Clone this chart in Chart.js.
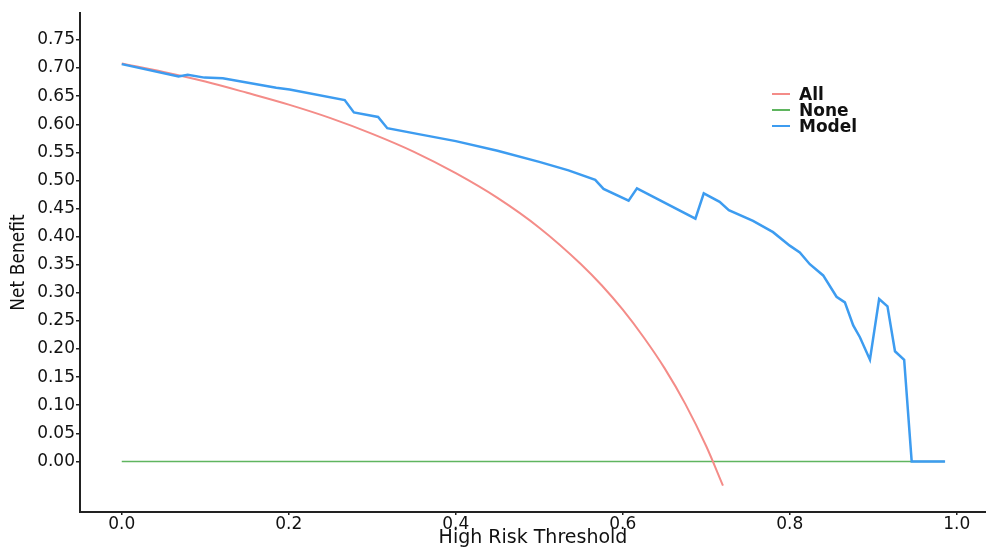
<!DOCTYPE html>
<html>
<head>
<meta charset="utf-8">
<script src="https://cdn.jsdelivr.net/npm/chart.js@4.4.0/dist/chart.umd.min.js"></script>
<style>
  body { margin: 0; background: #fff; }
  .wrap { position: relative; width: 986px; height: 548px; }
  .legend { position: absolute; left: 772px; top: 86px; font-family: "DejaVu Sans"; font-size: 17px; font-weight: 600; color: #111; }
  .legend div { display: flex; align-items: center; height: 16px; }
  .legend span.swatch { display: inline-block; width: 18px; height: 2px; margin-right: 9px; }
</style>
</head>
<body>
<div class="wrap">
  <canvas id="dca"></canvas>
  <div class="legend" id="legend"></div>
</div>
<script>
// threshold probabilities and net benefit values
const allX = [0, 0.05, 0.1, 0.15, 0.2, 0.25, 0.3, 0.35, 0.4, 0.45, 0.5, 0.55, 0.575, 0.6, 0.625, 0.65, 0.675, 0.7, 0.72];
const allY = [0.708, 0.693, 0.676, 0.656, 0.635, 0.611, 0.583, 0.551, 0.513, 0.469, 0.416, 0.351, 0.313, 0.270, 0.221, 0.166, 0.102, 0.027, -0.043];

const noneX = [0, 0.985];
const noneY = [0, 0];

const modelX = [0, 0.068, 0.079, 0.099, 0.121, 0.185, 0.201, 0.267, 0.278, 0.307, 0.318, 0.357, 0.4, 0.45, 0.5, 0.535,
  0.567, 0.577, 0.607, 0.617, 0.687, 0.697, 0.716, 0.727, 0.756, 0.78, 0.8, 0.812, 0.824, 0.84, 0.856, 0.866,
  0.876, 0.884, 0.896, 0.907, 0.917, 0.926, 0.937, 0.946, 0.986];
const modelY = [0.707, 0.685, 0.688, 0.683, 0.682, 0.665, 0.662, 0.643, 0.621, 0.613, 0.593, 0.582, 0.570, 0.553, 0.533, 0.518,
  0.501, 0.485, 0.464, 0.486, 0.432, 0.477, 0.462, 0.447, 0.428, 0.408, 0.384, 0.372, 0.351, 0.331, 0.293, 0.283,
  0.242, 0.221, 0.181, 0.289, 0.276, 0.196, 0.181, 0, 0];

const xTicks = [0, 0.2, 0.4, 0.6, 0.8, 1.0];
const yTicks = [0, 0.05, 0.1, 0.15, 0.2, 0.25, 0.3, 0.35, 0.4, 0.45, 0.5, 0.55, 0.6, 0.65, 0.7, 0.75];

const toPoints = (xs, ys) => xs.map((x, i) => ({ x: x, y: ys[i] }));

Chart.defaults.font.family = 'DejaVu Sans';
Chart.defaults.color = '#111';

const ctx = document.getElementById('dca').getContext('2d');
const chart = new Chart(ctx, {
  type: 'line',
  data: {
    datasets: [
      {
        label: 'All',
        data: toPoints(allX, allY),
        borderColor: '#f48c88',
        borderWidth: 2,
        pointRadius: 0,
        cubicInterpolationMode: 'monotone',
        order: 1,
      },
      {
        label: 'None',
        data: toPoints(noneX, noneY),
        borderColor: '#5fb55f',
        borderWidth: 1.6,
        pointRadius: 0,
        order: 2,
      },
      {
        label: 'Model',
        data: toPoints(modelX, modelY),
        borderColor: '#3d9cf0',
        borderWidth: 2.5,
        pointRadius: 0,
        tension: 0,
        order: 0,
      },
    ],
  },
  options: {
    responsive: true,
    maintainAspectRatio: false,
    animation: false,
    layout: { padding: { top: 13, left: 0, right: 0, bottom: 0 } },
    plugins: {
      legend: { display: false },
      tooltip: { enabled: false },
    },
    scales: {
      x: {
        type: 'linear',
        min: -0.05,
        max: 1.035,
        afterBuildTicks: (scale) => { scale.ticks = xTicks.map(v => ({ value: v })); },
        afterFit: (scale) => { scale.height = 36; },
        ticks: {
          callback: (v) => v.toFixed(1),
          font: { size: 17 },
          color: '#111',
          padding: -1,
          maxRotation: 0,
        },
        grid: { drawOnChartArea: false, tickLength: 3, color: '#222', lineWidth: 1.5 },
        border: { color: '#222', width: 2 },
        title: {
          display: true,
          text: 'High Risk Threshold',
          font: { size: 19 },
          color: '#111',
          padding: { top: 0, bottom: -1 },
        },
      },
      y: {
        type: 'linear',
        min: -0.09,
        max: 0.798,
        afterBuildTicks: (scale) => { scale.ticks = yTicks.map(v => ({ value: v })); },
        afterFit: (scale) => { scale.width = 80; },
        ticks: {
          callback: (v) => v.toFixed(2),
          font: { size: 17 },
          color: '#111',
          padding: 1,
        },
        grid: { drawOnChartArea: false, tickLength: 4, color: '#222', lineWidth: 1.5 },
        border: { color: '#222', width: 2 },
        title: {
          display: true,
          text: 'Net Benefit',
          font: { family: 'DejaVu Sans Condensed', size: 19 },
          color: '#111',
          padding: { top: 8, bottom: 0 },
        },
      },
    },
  },
});

// legend built from the datasets, placed inside the plot like the original
const legendEl = document.getElementById('legend');
chart.data.datasets.forEach((ds) => {
  const row = document.createElement('div');
  row.innerHTML = '<span class="swatch" style="background:' + ds.borderColor + '"></span>' + ds.label;
  legendEl.appendChild(row);
});
</script>
</body>
</html>
